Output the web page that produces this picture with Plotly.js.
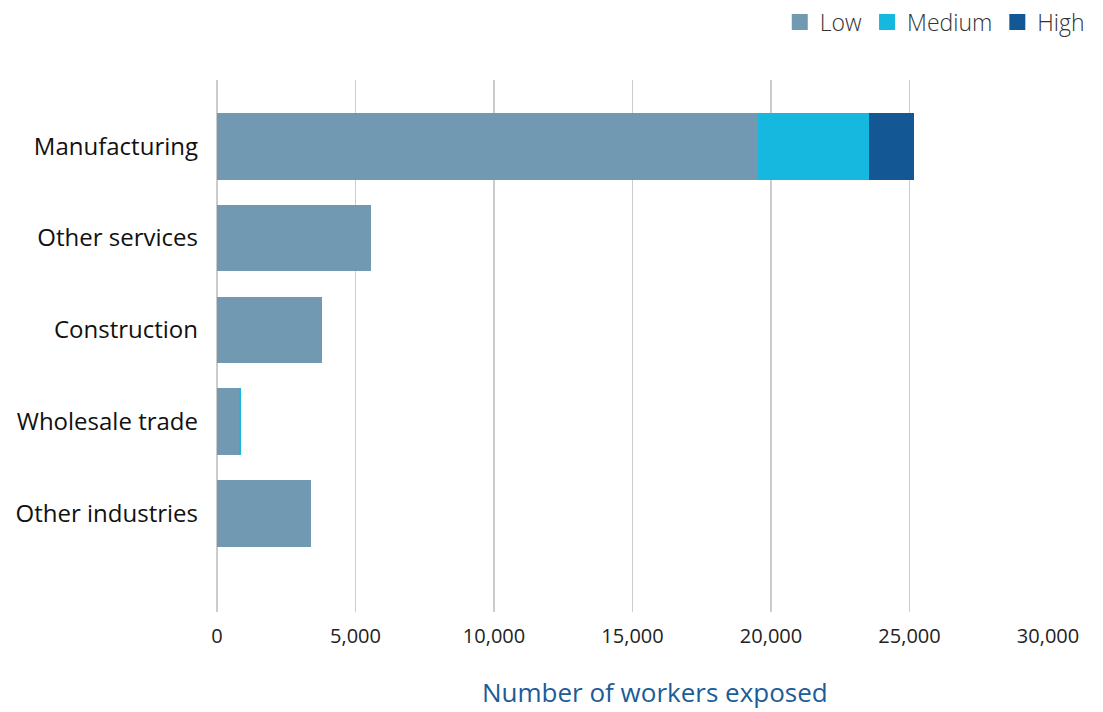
<!DOCTYPE html>
<html>
<head>
<meta charset="utf-8">
<script src="https://cdn.plot.ly/plotly-3.0.1.min.js"></script>
<style>html,body{margin:0;padding:0;background:#fff;}#chart{width:1103px;height:712px;}</style>
</head>
<body>
<div id="chart"></div>
<script>
const categories = ["Manufacturing", "Other services", "Construction", "Wholesale trade", "Other industries"];
const lowValues = [19540, 5565, 3800, 805, 3400];
const mediumValues = [4000, 0, 0, 60, 0];
const highValues = [1610, 0, 0, 0, 0];
const seriesNames = ["Low", "Medium", "High"];
const seriesColors = ["#7199b2", "#17b8df", "#135895"];
const xTickValues = [0, 5000, 10000, 15000, 20000, 25000, 30000];
const xTickLabels = ["0", "5,000", "10,000", "15,000", "20,000", "25,000", "30,000"];
const xAxisTitle = "Number of workers exposed";

const seriesValues = [lowValues, mediumValues, highValues];
const traces = seriesValues.map((vals, i) => ({
  type: "bar",
  orientation: "h",
  name: seriesNames[i],
  x: vals,
  y: categories,
  marker: {color: seriesColors[i], line: {width: 0}},
  showlegend: false,
  legendgroup: seriesNames[i],
  hoverinfo: "skip"
}));
// legend entries with larger square swatches
seriesNames.forEach((nm, i) => {
  traces.push({
    type: "scatter",
    mode: "markers",
    name: nm,
    x: [null],
    y: [null],
    marker: {symbol: "square", size: 16, color: seriesColors[i]},
    showlegend: true,
    legendgroup: nm,
    hoverinfo: "skip"
  });
});

const layout = {
  width: 1103, height: 712,
  margin: {l: 217, r: 55, t: 80, b: 100, pad: 0},
  barmode: "stack",
  bargap: 0.273,
  paper_bgcolor: "#fff",
  plot_bgcolor: "#fff",
  font: {family: "Open Sans, sans-serif", color: "#1a1a1a"},
  showlegend: true,
  legend: {
    orientation: "h",
    xref: "container", yref: "container",
    x: 0.988, xanchor: "right",
    y: 0.969, yanchor: "middle",
    font: {size: 23, color: "#333", weight: 300},
    itemwidth: 30,
    itemsizing: "trace",
    traceorder: "normal",
    bgcolor: "rgba(0,0,0,0)"
  },
  xaxis: {
    range: [0, 30000],
    tickvals: xTickValues,
    ticktext: xTickLabels,
    showgrid: true,
    gridcolor: "#cccccc",
    gridwidth: 1.5,
    zeroline: true,
    zerolinecolor: "#cccccc",
    zerolinewidth: 1.5,
    showline: false,
    ticks: "",
    ticklabelstandoff: 10,
    tickfont: {size: 20, color: "#222"},
    fixedrange: true
  },
  yaxis: {
    type: "category",
    categoryorder: "array",
    categoryarray: categories,
    range: [5.07, -0.72],
    showgrid: false,
    zeroline: false,
    showline: false,
    ticks: "",
    ticklabelstandoff: 18,
    tickfont: {size: 24, color: "#111"},
    fixedrange: true
  },
  annotations: [{
    text: xAxisTitle,
    xref: "paper", x: 0.5265, xanchor: "center",
    yref: "paper", y: -0.15, yanchor: "middle",
    showarrow: false,
    font: {size: 26, color: "#1d5c99"}
  }]
};

Plotly.newPlot("chart", traces, layout, {staticPlot: true, displayModeBar: false});
</script>
</body>
</html>
